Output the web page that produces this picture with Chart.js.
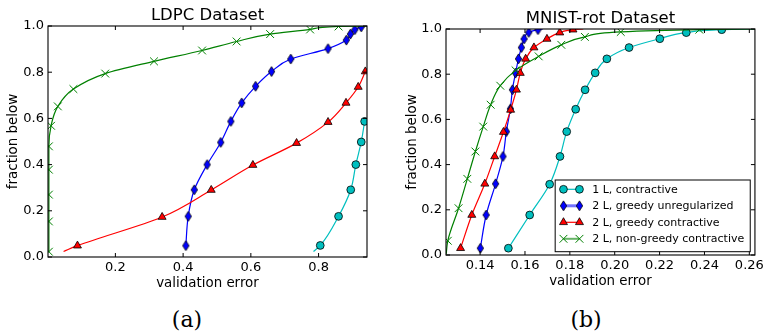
<!DOCTYPE html>
<html><head><meta charset="utf-8">
<script src="https://cdn.jsdelivr.net/npm/chart.js@4.4.0/dist/chart.umd.min.js"></script>
<style>
html,body{margin:0;padding:0;background:#fff;width:767px;height:331px;overflow:hidden;position:relative}
#c1{position:absolute;left:0;top:0}
#c2{position:absolute;left:383px;top:0}
.lab{position:absolute;font-family:"DejaVu Serif",serif;font-size:22px;line-height:26px;color:#000;transform:translateX(-50%);white-space:nowrap}
</style></head><body>
<canvas id="c1" width="383" height="300"></canvas>
<canvas id="c2" width="384" height="300"></canvas>
<div class="lab" style="left:187px;top:307px">(a)</div>
<div class="lab" style="left:586px;top:307px">(b)</div>
<script>
// ---------- text ----------
const seriesNames = ["1 L, contractive", "2 L, greedy unregularized", "2 L, greedy contractive", "2 L, non-greedy contractive"];
const chartTitles = ["LDPC Dataset", "MNIST-rot Dataset"];
const xAxisLabel = "validation error";
const yAxisLabel = "fraction below";

// ---------- ticks / ranges ----------
const ldpcXTicks = [0.2, 0.4, 0.6, 0.8];
const mnistXTicks = [0.14, 0.16, 0.18, 0.20, 0.22, 0.24, 0.26];
const yTicks = [0.0, 0.2, 0.4, 0.6, 0.8, 1.0];
const ldpcXRange = [0.001, 0.943];
const mnistXRange = [0.1248, 0.2625];

// ---------- LDPC (marker points) ----------
const ldpcCon1LX = [0.805, 0.859, 0.895, 0.910, 0.926, 0.936];
const ldpcCon1LY = [0.050, 0.176, 0.291, 0.400, 0.498, 0.587];
const ldpcUnreg2LX = [0.408, 0.415, 0.433, 0.471, 0.511, 0.541, 0.573, 0.614, 0.661, 0.718, 0.828, 0.882, 0.894, 0.907, 0.926];
const ldpcUnreg2LY = [0.049, 0.176, 0.291, 0.400, 0.496, 0.587, 0.667, 0.739, 0.803, 0.857, 0.902, 0.939, 0.965, 0.984, 0.996];
const ldpcGreedy2LX = [0.088, 0.338, 0.483, 0.606, 0.735, 0.828, 0.881, 0.917, 0.938];
const ldpcGreedy2LY = [0.049, 0.173, 0.290, 0.398, 0.493, 0.584, 0.667, 0.736, 0.803];
const ldpcNonGreedy2LX = [0.0036, 0.0036, 0.0036, 0.0036, 0.0036, 0.010, 0.030, 0.076, 0.170, 0.314, 0.456, 0.558, 0.657, 0.775, 0.859];
const ldpcNonGreedy2LY = [0.023, 0.154, 0.270, 0.378, 0.479, 0.568, 0.652, 0.727, 0.794, 0.847, 0.894, 0.933, 0.965, 0.985, 0.998];
// curve ends beyond the markers [x, y]
const ldpcCon1LStart = [0.785, 0.024];
const ldpcUnreg2LEnd = [0.935, 1.0];
const ldpcGreedy2LStart = [0.047, 0.024];
const ldpcNonGreedy2LEnd = [0.943, 1.0];

// ---------- MNIST-rot (marker points) ----------
const mnistCon1LX = [0.1526, 0.1621, 0.1710, 0.1756, 0.1786, 0.1826, 0.1868, 0.1913, 0.1965, 0.2064, 0.2201, 0.2319, 0.2477];
const mnistCon1LY = [0.030, 0.177, 0.313, 0.436, 0.546, 0.645, 0.731, 0.806, 0.868, 0.918, 0.957, 0.984, 0.997];
const mnistUnreg2LX = [0.1401, 0.1427, 0.1469, 0.1502, 0.1517, 0.1535, 0.1544, 0.1558, 0.1571, 0.1584, 0.1596, 0.1617, 0.1658];
const mnistUnreg2LY = [0.030, 0.177, 0.315, 0.436, 0.546, 0.647, 0.731, 0.805, 0.868, 0.918, 0.956, 0.985, 0.997];
const mnistGreedy2LX = [0.1313, 0.1363, 0.1421, 0.1465, 0.1504, 0.1536, 0.1562, 0.1579, 0.1603, 0.1640, 0.1698, 0.1755, 0.1814];
const mnistGreedy2LY = [0.030, 0.177, 0.315, 0.436, 0.544, 0.642, 0.731, 0.805, 0.868, 0.918, 0.956, 0.984, 0.997];
const mnistNonGreedy2LX = [0.1256, 0.1304, 0.1343, 0.1379, 0.1414, 0.1447, 0.1490, 0.1558, 0.1661, 0.1762, 0.1867, 0.2027, 0.2377];
const mnistNonGreedy2LY = [0.063, 0.207, 0.337, 0.458, 0.568, 0.665, 0.749, 0.817, 0.879, 0.930, 0.965, 0.987, 0.997];
const mnistCon1LEnd = [0.2625, 1.0];
const mnistUnreg2LEnd = [0.168, 1.0];
const mnistGreedy2LEnd = [0.186, 1.0];
const mnistNonGreedy2LStart = [0.1249, 0.005];
const mnistNonGreedy2LEnd = [0.2625, 1.0];

// ---------- styling ----------
const FONT = '"DejaVu Sans", sans-serif';
function makeDiamond(){
  const c = document.createElement('canvas'); c.width = 9; c.height = 12;
  const g = c.getContext('2d');
  g.beginPath(); g.moveTo(4.5, 1); g.lineTo(7.7, 6); g.lineTo(4.5, 11); g.lineTo(1.3, 6); g.closePath();
  g.fillStyle = '#0000ff'; g.fill(); g.lineWidth = 0.8; g.strokeStyle = '#000'; g.stroke();
  return c;
}
const diamondImg = makeDiamond();
const seriesStyles = [
  {color:'#00bfbf', point:'circle', r:3.9, edge:'#000', edgeW:0.8, legendW:1.2, legendAlpha:1},
  {color:'#0000ff', point:diamondImg, r:5, edge:'#000', edgeW:0.8, legendW:3, legendAlpha:0.55},
  {color:'#ff0000', point:'triangle', r:4.6, edge:'#000', edgeW:0.8, legendW:1.2, legendAlpha:1},
  {color:'#008000', point:'crossRot', r:5.5, edge:'#008000', edgeW:1, legendW:2, legendAlpha:0.6}
];

function buildPoints(xs, ys, start, end){
  const pts = xs.map((x, i) => ({x: x, y: ys[i]}));
  if (start) pts.unshift({x: start[0], y: start[1], tail: true});
  if (end) pts.push({x: end[0], y: end[1], tail: true});
  return pts;
}
function makeDataset(i, pts){
  const s = seriesStyles[i];
  return {
    label: seriesNames[i], data: pts,
    borderColor: s.color, backgroundColor: s.color, borderWidth: 1.2,
    cubicInterpolationMode: 'monotone', fill: false,
    pointStyle: s.point,
    pointRadius: c => (c.raw && c.raw.tail) ? 0 : s.r,
    pointHoverRadius: c => (c.raw && c.raw.tail) ? 0 : s.r,
    pointBackgroundColor: s.color, pointBorderColor: s.edge, pointBorderWidth: s.edgeW,
    order: 4 - i
  };
}

// frame, inward ticks, title
const framePlugin = {
  id: 'frameTicks',
  afterDatasetsDraw(chart, args, opts){
    const ctx = chart.ctx, ca = chart.chartArea;
    const xs = chart.scales.x, ys = chart.scales.y;
    ctx.save();
    ctx.strokeStyle = '#000'; ctx.lineWidth = 1.1;
    ctx.strokeRect(ca.left, ca.top, ca.right - ca.left, ca.bottom - ca.top);
    ctx.lineWidth = 1;
    const L = 4;
    ctx.beginPath();
    xs.ticks.forEach(t => {
      const px = xs.getPixelForValue(t.value);
      ctx.moveTo(px, ca.bottom); ctx.lineTo(px, ca.bottom - L);
      ctx.moveTo(px, ca.top); ctx.lineTo(px, ca.top + L);
    });
    ys.ticks.forEach(t => {
      const py = ys.getPixelForValue(t.value);
      ctx.moveTo(ca.left, py); ctx.lineTo(ca.left + L, py);
      ctx.moveTo(ca.right, py); ctx.lineTo(ca.right - L, py);
    });
    ctx.stroke();
    ctx.fillStyle = '#000';
    ctx.font = '16.5px ' + FONT;
    ctx.textAlign = 'center'; ctx.textBaseline = 'alphabetic';
    ctx.fillText(opts.title, (ca.left + ca.right) / 2, ca.top - 5.8);
    ctx.restore();
  },
  afterDraw(chart, args, opts){
    if (!opts.legend) return;
    const ctx = chart.ctx, ca = chart.chartArea;
    ctx.save();
    ctx.font = '11px ' + FONT;
    let maxW = 0;
    seriesNames.forEach(n => { maxW = Math.max(maxW, ctx.measureText(n).width); });
    const w = 37 + maxW + 6, h = 71.7;
    const right = ca.right - 4.7, bottom = ca.bottom - 3.3;
    const left = right - w, top = bottom - h;
    ctx.fillStyle = '#fff'; ctx.fillRect(left, top, w, h);
    ctx.strokeStyle = '#000'; ctx.lineWidth = 1; ctx.strokeRect(left, top, w, h);
    seriesNames.forEach((name, i) => {
      const s = seriesStyles[i];
      const y = top + 9.3 + i * 16.5;
      const x1 = left + 8.3, x2 = left + 24.3;
      ctx.save();
      ctx.globalAlpha = s.legendAlpha;
      ctx.strokeStyle = s.color; ctx.lineWidth = s.legendW;
      ctx.beginPath(); ctx.moveTo(x1, y); ctx.lineTo(x2, y); ctx.stroke();
      ctx.restore();
      [x1, x2].forEach(x => drawMarker(ctx, s, x, y));
      ctx.fillStyle = '#000'; ctx.textAlign = 'left'; ctx.textBaseline = 'middle';
      ctx.fillText(name, left + 37, y + 0.5);
    });
    ctx.restore();
  }
};
function drawMarker(ctx, s, x, y){
  ctx.save();
  ctx.fillStyle = s.color; ctx.strokeStyle = s.edge; ctx.lineWidth = s.edgeW;
  if (typeof s.point !== 'string') {
    ctx.drawImage(s.point, x - s.point.width / 2, y - s.point.height / 2);
  } else if (s.point === 'circle') {
    ctx.beginPath(); ctx.arc(x, y, s.r, 0, Math.PI * 2); ctx.fill(); ctx.stroke();
  } else if (s.point === 'triangle') {
    const r = s.r;
    ctx.beginPath();
    ctx.moveTo(x, y - r);
    ctx.lineTo(x + r * Math.sin(Math.PI / 3 * 2), y + r / 2);
    ctx.lineTo(x - r * Math.sin(Math.PI / 3 * 2), y + r / 2);
    ctx.closePath(); ctx.fill(); ctx.stroke();
  } else if (s.point === 'crossRot') {
    const d = s.r * Math.SQRT1_2;
    ctx.beginPath();
    ctx.moveTo(x - d, y - d); ctx.lineTo(x + d, y + d);
    ctx.moveTo(x - d, y + d); ctx.lineTo(x + d, y - d);
    ctx.stroke();
  }
  ctx.restore();
}

function makeChart(canvasId, datasets, xRange, xTicks, xDigits, title, legend, pad, yW){
  return new Chart(document.getElementById(canvasId), {
    type: 'line',
    data: { datasets: datasets },
    plugins: [framePlugin],
    options: {
      responsive: false, animation: false, devicePixelRatio: 1,
      indexAxis: 'y',
      layout: { padding: pad },
      plugins: {
        legend: { display: false }, tooltip: { enabled: false }, title: { display: false },
        frameTicks: { title: title, legend: legend }
      },
      scales: {
        x: {
          type: 'linear', position: 'bottom', min: xRange[0], max: xRange[1],
          afterBuildTicks: s => { s.ticks = xTicks.map(v => ({value: v})); },
          afterFit: s => { s.height = 35; },
          grid: { display: false, drawTicks: false }, border: { display: false },
          ticks: { color: '#000', font: { family: FONT, size: 13 }, padding: 3, maxRotation: 0, autoSkip: false,
                   callback: v => Number(v).toFixed(xDigits) },
          title: { display: true, text: xAxisLabel, color: '#000', font: { family: FONT, size: 13.4 }, padding: { top: 0, bottom: 0 } }
        },
        y: {
          type: 'linear', position: 'left', min: 0, max: 1,
          afterBuildTicks: s => { s.ticks = yTicks.map(v => ({value: v})); },
          afterFit: s => { s.width = yW; },
          grid: { display: false, drawTicks: false }, border: { display: false },
          ticks: { color: '#000', font: { family: FONT, size: 13 }, padding: 4, autoSkip: false,
                   callback: v => Number(v).toFixed(1) },
          title: { display: true, text: yAxisLabel, color: '#000', font: { family: FONT, size: 13.4 }, padding: { top: 5, bottom: 0 } }
        }
      }
    }
  });
}

const ldpcSets = [
  makeDataset(0, buildPoints(ldpcCon1LX, ldpcCon1LY, ldpcCon1LStart, null)),
  makeDataset(1, buildPoints(ldpcUnreg2LX, ldpcUnreg2LY, null, ldpcUnreg2LEnd)),
  makeDataset(2, buildPoints(ldpcGreedy2LX, ldpcGreedy2LY, ldpcGreedy2LStart, null)),
  makeDataset(3, buildPoints(ldpcNonGreedy2LX, ldpcNonGreedy2LY, null, ldpcNonGreedy2LEnd))
];
const mnistSets = [
  makeDataset(0, buildPoints(mnistCon1LX, mnistCon1LY, null, mnistCon1LEnd)),
  makeDataset(1, buildPoints(mnistUnreg2LX, mnistUnreg2LY, null, mnistUnreg2LEnd)),
  makeDataset(2, buildPoints(mnistGreedy2LX, mnistGreedy2LY, null, mnistGreedy2LEnd)),
  makeDataset(3, buildPoints(mnistNonGreedy2LX, mnistNonGreedy2LY, mnistNonGreedy2LStart, mnistNonGreedy2LEnd))
];

makeChart('c1', ldpcSets, ldpcXRange, ldpcXTicks, 1, chartTitles[0], false, {left: 0, right: 16, top: 26, bottom: 8}, 48);
makeChart('c2', mnistSets, mnistXRange, mnistXTicks, 2, chartTitles[1], true, {left: 16, right: 11, top: 29, bottom: 10}, 47);
</script>
</body></html>
